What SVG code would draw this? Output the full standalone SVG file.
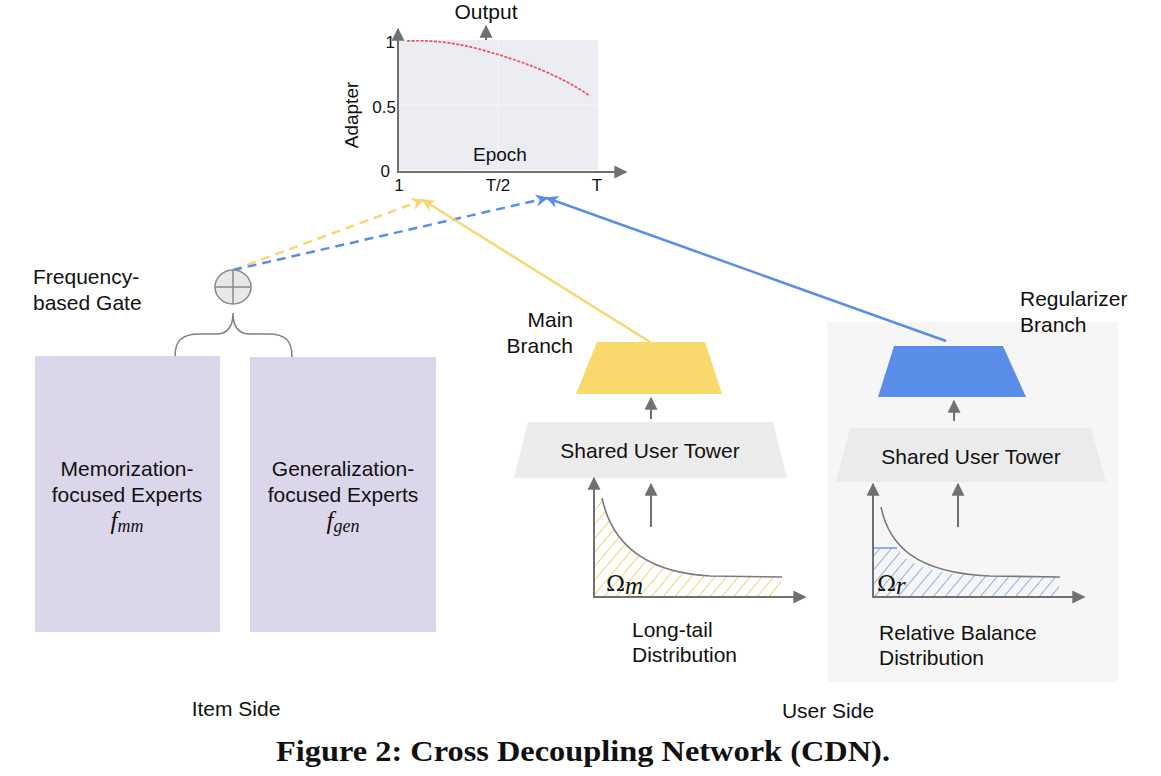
<svg xmlns="http://www.w3.org/2000/svg" width="1161" height="776" viewBox="0 0 1161 776">
<style>
.t{font-family:"Liberation Sans",Arial,sans-serif;font-size:21px;fill:#111}
.tc{text-anchor:middle}
.tr{text-anchor:end}
.m{font-family:"Liberation Serif","DejaVu Serif",serif;font-style:italic;font-size:25px;fill:#111}
.om{font-family:"DejaVu Serif","Liberation Serif",serif;font-size:23px;fill:#111}
.ax{stroke:#707070;stroke-width:2;fill:none}
.cv{stroke:#7a7a7a;stroke-width:1.6;fill:none}
.yl{stroke:#f8d674;stroke-width:2.5;fill:none}
.bl{stroke:#5a8de6;stroke-width:2.5;fill:none}
.dash{stroke-dasharray:9 6}
</style>
<defs>
<marker id="ag" viewBox="0 0 10 10" refX="9" refY="5" markerWidth="6.5" markerHeight="6.5" orient="auto" markerUnits="strokeWidth"><path d="M0,0 L10,5 L0,10 Z" fill="#707070"/></marker>
<marker id="ay" viewBox="0 0 10 10" refX="9" refY="5" markerWidth="5" markerHeight="5" orient="auto" markerUnits="strokeWidth"><path d="M0,0 L10,5 L0,10 L3,5 Z" fill="#f8d674"/></marker>
<marker id="ab" viewBox="0 0 10 10" refX="9" refY="5" markerWidth="5" markerHeight="5" orient="auto" markerUnits="strokeWidth"><path d="M0,0 L10,5 L0,10 L3,5 Z" fill="#5a8de6"/></marker>
<pattern id="hy" width="9" height="9" patternUnits="userSpaceOnUse" patternTransform="rotate(40)"><line x1="0" y1="0" x2="0" y2="9" stroke="#eec54c" stroke-width="1.5"/></pattern>
<pattern id="hb" width="9" height="9" patternUnits="userSpaceOnUse" patternTransform="rotate(40)"><line x1="0" y1="0" x2="0" y2="9" stroke="#6a97e8" stroke-width="1.5"/></pattern>
</defs>

<rect width="1161" height="776" fill="#ffffff"/>

<g id="user-panel-bg"><rect x="827" y="322" width="291" height="360" fill="#f6f6f6"/></g>

<g id="adapter-chart">
<text class="t tc" style="font-size:21px" x="486" y="19">Output</text>
<line class="ax" x1="486" y1="46" x2="486" y2="26" marker-end="url(#ag)"/>
<rect x="398" y="40" width="200" height="130" fill="#ececf3"/>
<line x1="398" y1="105" x2="598" y2="105" stroke="#f6f6fa" stroke-width="1"/>
<line x1="498" y1="40" x2="498" y2="170" stroke="#f6f6fa" stroke-width="1"/>
<path d="M407,41 C430,40 450,42 475,48 C520,60 560,75 590,96" stroke="#e8505a" stroke-width="1.7" stroke-dasharray="3 1.5" fill="none"/>
<line class="ax" x1="398" y1="172" x2="398" y2="29" marker-end="url(#ag)"/>
<line class="ax" x1="397" y1="172" x2="626" y2="172" marker-end="url(#ag)"/>
<text class="t" style="font-size:17px" text-anchor="end" x="395" y="48">1</text>
<text class="t" style="font-size:17px" text-anchor="end" x="396" y="113">0.5</text>
<text class="t" style="font-size:17px" text-anchor="end" x="390" y="177">0</text>
<text class="t tc" style="font-size:17px" x="399" y="191">1</text>
<text class="t tc" style="font-size:17px" x="498" y="191">T/2</text>
<text class="t tc" style="font-size:17px" x="597" y="191">T</text>
<text class="t tc" style="font-size:19px" x="500" y="161">Epoch</text>
<text class="t tc" style="font-size:19px" transform="translate(358,115) rotate(-90)">Adapter</text>
</g>

<g id="connectors">
<line class="yl dash" x1="233" y1="270" x2="423" y2="200" marker-end="url(#ay)"/>
<line class="bl dash" x1="233" y1="270" x2="547" y2="198" marker-end="url(#ab)"/>
<line class="yl" x1="650" y1="342" x2="423" y2="200" marker-end="url(#ay)"/>
<line class="bl" x1="946" y1="341" x2="547" y2="198" marker-end="url(#ab)"/>
<line class="ax" x1="651" y1="419" x2="651" y2="398" marker-end="url(#ag)"/>
<line class="ax" x1="651" y1="527" x2="651" y2="484" marker-end="url(#ag)"/>
<line class="ax" x1="954" y1="421" x2="954" y2="401" marker-end="url(#ag)"/>
<line class="ax" x1="958" y1="527" x2="958" y2="484" marker-end="url(#ag)"/>
</g>

<g id="gate">
<ellipse cx="233" cy="287" rx="18" ry="17" fill="#e8e8e8" stroke="#8a8a8a" stroke-width="1.5"/>
<line x1="215" y1="287" x2="251" y2="287" stroke="#8a8a8a" stroke-width="1.5"/>
<line x1="233" y1="270" x2="233" y2="304" stroke="#8a8a8a" stroke-width="1.5"/>
<text class="t" x="33" y="284">Frequency-</text>
<text class="t" x="33" y="310">based Gate</text>
<path d="M175,357 C175,341 181,334 200,334 L216,334 C228,334 233,326 233,313 C233,326 238,334 250,334 L268,334 C286,334 292,341 292,357" stroke="#808080" stroke-width="1.5" fill="none"/>
</g>

<g id="memorization-experts">
<rect x="35" y="356" width="185" height="276" fill="#dcd6ea"/>
<text class="t tc" x="127" y="476">Memorization-</text>
<text class="t tc" x="127" y="502">focused Experts</text>
<text class="m tc" x="127" y="529">f<tspan font-size="18" dy="3">mm</tspan></text>
</g>

<g id="generalization-experts">
<rect x="250" y="357" width="186" height="275" fill="#dcd6ea"/>
<text class="t tc" x="343" y="476">Generalization-</text>
<text class="t tc" x="343" y="502">focused Experts</text>
<text class="m tc" x="343" y="529">f<tspan font-size="18" dy="3">gen</tspan></text>
</g>

<g id="main-branch">
<text class="t tr" x="573" y="327">Main</text>
<text class="t tr" x="573" y="353">Branch</text>
<polygon points="597,342 705,342 722,394 576,394" fill="#f9d86c"/>
</g>

<g id="shared-tower-left">
<polygon points="528,422 773,422 787,478 514,478" fill="#ececec"/>
<text class="t tc" x="650" y="458">Shared User Tower</text>
</g>

<g id="long-tail-dist">
<path d="M594,500 L602,498 C611,540 640,572 710,576 L782,577 L779,597 L594,597 Z" fill="url(#hy)"/>
<path class="cv" d="M602,498 C611,540 640,572 710,576 L782,577"/>
<line class="ax" x1="594" y1="598" x2="594" y2="478" marker-end="url(#ag)"/>
<line class="ax" x1="593" y1="597" x2="805" y2="597" marker-end="url(#ag)"/>
<text class="om" x="606" y="591">Ω<tspan class="m" font-size="19" dy="3">m</tspan></text>
<text class="t" x="632" y="637">Long-tail</text>
<text class="t" x="632" y="662">Distribution</text>
</g>

<g id="regularizer-branch">
<text class="t" x="1020" y="306">Regularizer</text>
<text class="t" x="1020" y="332">Branch</text>
<polygon points="894,346 1003,346 1026,397 878,397" fill="#5a8de8"/>
</g>

<g id="shared-tower-right">
<polygon points="850,428 1091,428 1106,482 836,482" fill="#ebebeb"/>
<text class="t tc" x="971" y="464">Shared User Tower</text>
</g>

<g id="relative-balance-dist">
<path d="M873,548 L897,548 C905,562 925,575 990,576 L1060,577 L1058,597 L873,597 Z" fill="url(#hb)"/>
<line x1="873" y1="548" x2="897" y2="548" stroke="#6a97e8" stroke-width="1.5"/>
<path class="cv" d="M881,507 C889,545 915,573 990,576 L1060,577"/>
<line class="ax" x1="873" y1="598" x2="873" y2="484" marker-end="url(#ag)"/>
<line class="ax" x1="872" y1="597" x2="1084" y2="597" marker-end="url(#ag)"/>
<text class="om" x="877" y="591">Ω<tspan class="m" font-size="19" dy="3">r</tspan></text>
<text class="t" x="879" y="640">Relative Balance</text>
<text class="t" x="879" y="665">Distribution</text>
</g>

<g id="labels">
<text class="t tc" x="236" y="716">Item Side</text>
<text class="t tc" x="828" y="718">User Side</text>
<text x="583" y="761" text-anchor="middle" font-family="'Liberation Serif','DejaVu Serif',serif" font-weight="bold" font-size="29" textLength="614" lengthAdjust="spacingAndGlyphs" fill="#111">Figure 2: Cross Decoupling Network (CDN).</text>
</g>
</svg>
